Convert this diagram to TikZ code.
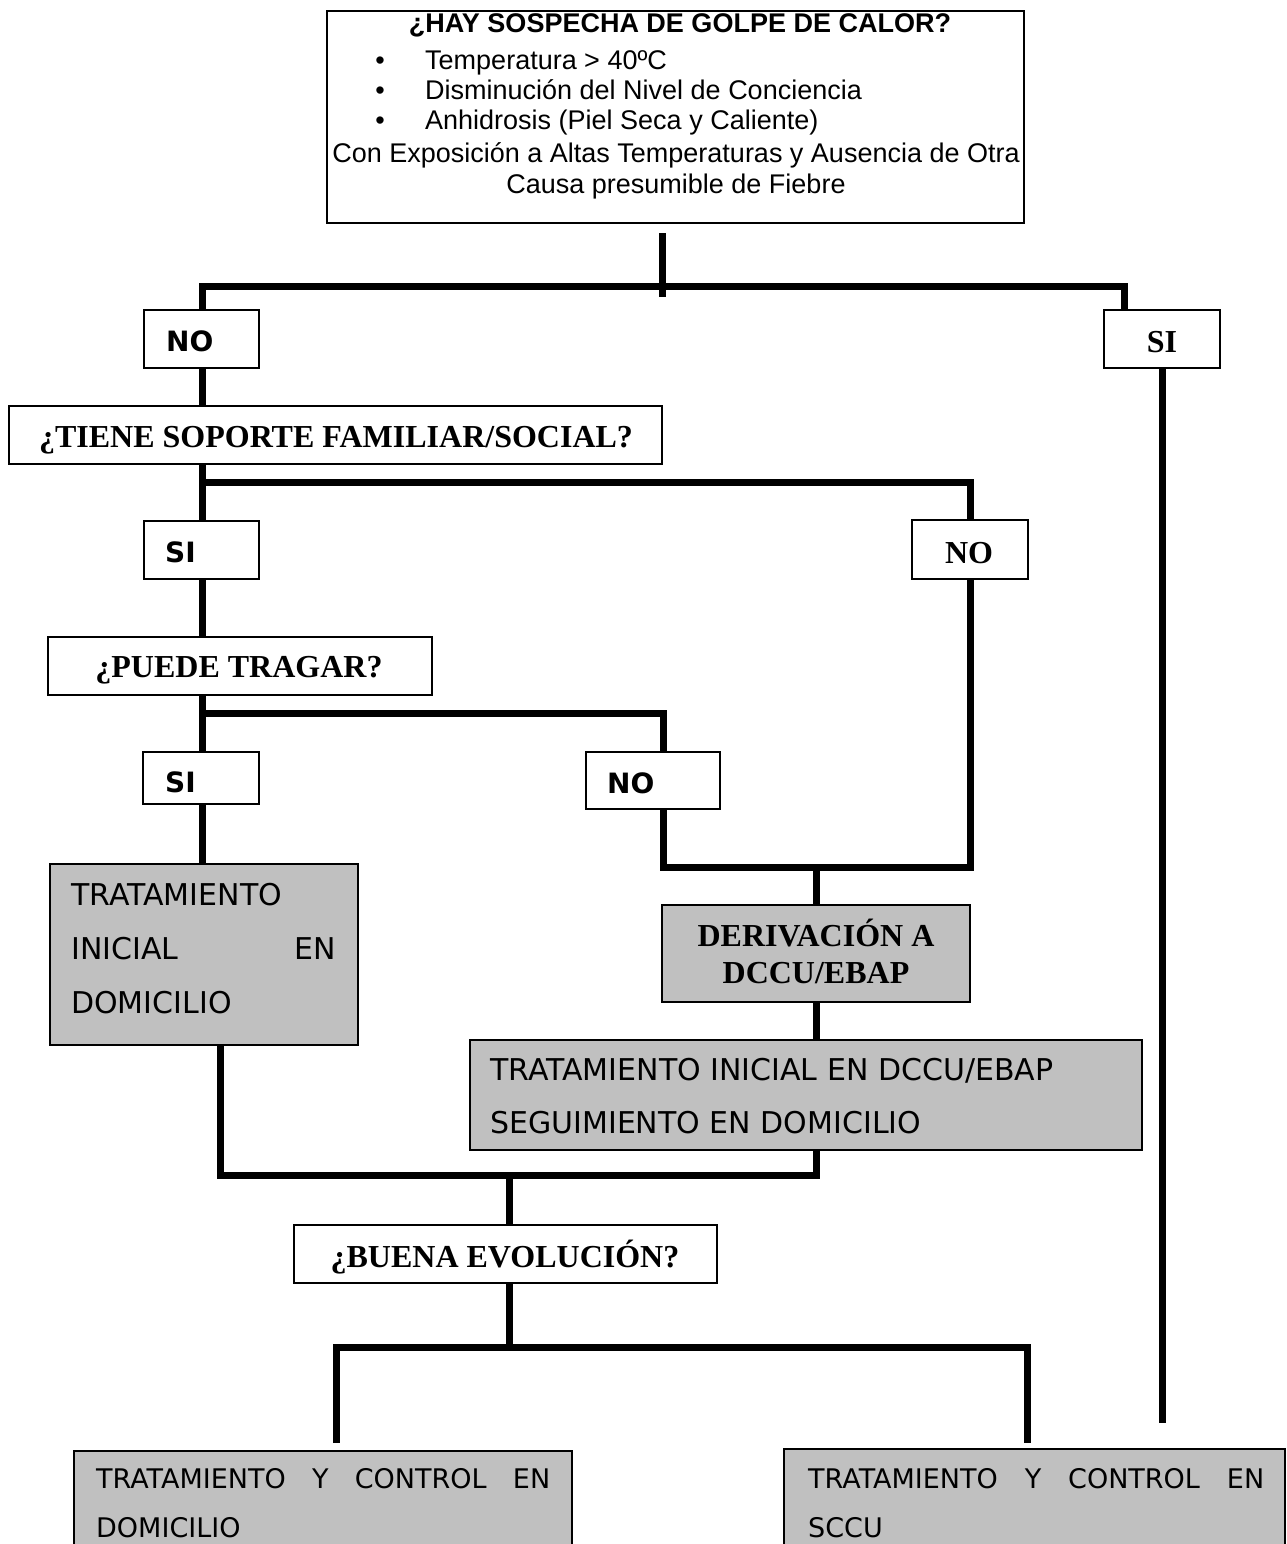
\documentclass[tikz,border=0pt]{standalone}
\usepackage{fontspec}
\setmainfont{Liberation Serif}
\newfontfamily\arialf{Liberation Sans}
\newfontfamily\verdf{DejaVu Sans}
\definecolor{boxgray}{RGB}{192,192,192}
\newcommand{\mybox}[6]{%
  \pgfmathsetmacro{\bw}{#5-#3}\pgfmathsetmacro{\bh}{#6-#4}%
  \pgfmathsetmacro{\bcx}{(#3+#5)/2}\pgfmathsetmacro{\bcy}{(#4+#6)/2}%
  \node[#2, minimum width=\bw pt, minimum height=\bh pt] (#1) at (\bcx,\bcy) {};}
\begin{document}
\begin{tikzpicture}[x=1pt,y=-1pt,
  conn/.style={line width=7pt, line join=miter, line cap=butt},
  lbl/.style={draw=black, line width=1.3pt, fill=white, rectangle, inner sep=0pt, outer sep=0pt},
  topbox/.style={draw=black, line width=2pt, fill=white, rectangle, inner sep=0pt, outer sep=0pt},
  gbox/.style={draw=black, line width=1.3pt, fill=boxgray, rectangle, inner sep=0pt, outer sep=0pt},
  ttl/.style={inner sep=0pt, font={\arialf\fontsize{27}{27}\selectfont}},
  ttlb/.style={inner sep=0pt, font={\arialf\bfseries\fontsize{27}{27}\selectfont}},
  tms/.style={inner sep=0pt, font={\bfseries\fontsize{32}{32}\selectfont}},
  vb/.style={inner sep=0pt, font={\verdf\bfseries\fontsize{28}{28}\selectfont}},
  vt/.style={inner sep=0pt, font={\verdf\fontsize{30}{30}\selectfont}},
  vs/.style={inner sep=0pt, font={\verdf\fontsize{27}{27}\selectfont}}
]
\useasboundingbox (0,0) rectangle (1287,1544);
\clip (0,0) rectangle (1287,1544);
\fill[white] (0,0) rectangle (1287,1544);

% boxes
\mybox{T}{topbox}{327}{11}{1024}{223}
\mybox{NO1}{lbl}{144}{310}{259}{368}
\mybox{SI1}{lbl}{1104}{310}{1220}{368}
\mybox{SOP}{lbl}{9}{406}{662}{464}
\mybox{SI2}{lbl}{144}{521}{259}{579}
\mybox{NO2}{lbl}{912}{520}{1028}{579}
\mybox{PUE}{lbl}{48}{637}{432}{695}
\mybox{SI3}{lbl}{143}{752}{259}{804}
\mybox{NO3}{lbl}{586}{752}{720}{809}
\mybox{TR1}{gbox}{50}{864}{358}{1045}
\mybox{DER}{gbox}{662}{905}{970}{1002}
\mybox{TR2}{gbox}{470}{1040}{1142}{1150}
\mybox{BUE}{lbl}{294}{1225}{717}{1283}
\mybox{BT1}{gbox}{74}{1451}{572}{1580}
\mybox{BT2}{gbox}{784}{1449}{1285}{1580}

% texts top box
\node[ttlb, anchor=base] (t0) at (680,33) {¿HAY SOSPECHA DE GOLPE DE CALOR?};
\node[ttl, anchor=base] (b1) at (380,70) {•};
\node[ttl, anchor=base west] (t1) at (425,70) {Temperatura > 40ºC};
\node[ttl, anchor=base] (b2) at (380,100) {•};
\node[ttl, anchor=base west] (t2) at (425,100) {Disminución del Nivel de Conciencia};
\node[ttl, anchor=base] (b3) at (380,130) {•};
\node[ttl, anchor=base west] (t3) at (425,130) {Anhidrosis (Piel Seca y Caliente)};
\node[ttl, anchor=base] (t4) at (676,162) {Con Exposición a Altas Temperaturas y Ausencia de Otra};
\node[ttl, anchor=base] (t5) at (676,193) {Causa presumible de Fiebre};

% label texts
\node[vb, anchor=base west] (tNO1) at (166,351) {NO};
\node[tms, anchor=base] (tSI1) at (1162,352) {SI};
\node[tms, anchor=base] (tSOP) at (336,447) {¿TIENE SOPORTE FAMILIAR/SOCIAL?};
\node[vb, anchor=base west] (tSI2) at (165,562) {SI};
\node[tms, anchor=base] (tNO2) at (969,563) {NO};
\node[tms, anchor=base] (tPUE) at (239,677) {¿PUEDE TRAGAR?};
\node[vb, anchor=base west] (tSI3) at (165,792) {SI};
\node[vb, anchor=base west] (tNO3) at (607,793) {NO};
\node[tms, anchor=base] (tDER1) at (816,946) {DERIVACIÓN A};
\node[tms, anchor=base] (tDER2) at (816,983) {DCCU/EBAP};
\node[tms, anchor=base] (tBUE) at (505,1267) {¿BUENA EVOLUCIÓN?};

% gray box texts
\node[vt, anchor=base west] (tTR1a) at (71,905) {TRATAMIENTO};
\node[vt, anchor=base west] (tTR1b) at (71,959) {\hbox to 265pt{INICIAL\hfill EN}};
\node[vt, anchor=base west] (tTR1c) at (71,1013) {DOMICILIO};
\node[vt, anchor=base west] (tTR2a) at (490,1080) {TRATAMIENTO INICIAL EN DCCU/EBAP};
\node[vt, anchor=base west] (tTR2b) at (490,1133) {SEGUIMIENTO EN DOMICILIO};
\node[vs, anchor=base west] (tBT1a) at (96,1488) {\hbox to 454pt{TRATAMIENTO\hfill Y\hfill CONTROL\hfill EN}};
\node[vs, anchor=base west] (tBT1b) at (96,1537) {DOMICILIO};
\node[vs, anchor=base west] (tBT2a) at (808,1488) {\hbox to 456pt{TRATAMIENTO\hfill Y\hfill CONTROL\hfill EN}};
\node[vs, anchor=base west] (tBT2b) at (808,1537) {SCCU};

% coordinates
\coordinate (tr1) at (662,233);
\coordinate (tr2) at (662,297);
\coordinate (h1L) at (202,286);
\coordinate (h1R) at (1124,286);
\coordinate (siEnd) at (1162,1423);
\coordinate (h2L) at (202,482);
\coordinate (h2R) at (970,482);
\coordinate (h3L) at (202,713);
\coordinate (h3R) at (663,713);
\coordinate (h4L) at (663,867);
\coordinate (h4R) at (970,867);
\coordinate (h4M) at (816,867);
\coordinate (h5L) at (220,1175);
\coordinate (h5R) at (816,1175);
\coordinate (h5M) at (509,1175);
\coordinate (h6M) at (509,1347);
\coordinate (h6L) at (336,1347);
\coordinate (h6R) at (1027,1347);
\coordinate (e6L) at (336,1443);
\coordinate (e6R) at (1027,1443);

% connectors
\draw[conn] (tr1) -- (tr2);
\draw[conn] (NO1.north -| h1L) -- (h1L) -- (h1R) -- (SI1.north -| h1R);
\draw[conn] (SI1.south) -- (siEnd);
\draw[conn] (NO1.south -| h1L) -- (SOP.north -| h1L);
\draw[conn] (SOP.south -| h1L) -- (SI2.north -| h1L);
\draw[conn] (h2L) -- (h2R) -- (NO2.north -| h2R);
\draw[conn] (SI2.south -| h1L) -- (PUE.north -| h1L);
\draw[conn] (PUE.south -| h1L) -- (SI3.north -| h1L);
\draw[conn] (h3L) -- (h3R) -- (NO3.north -| h3R);
\draw[conn] (SI3.south -| h1L) -- (TR1.north -| h1L);
\draw[conn] (NO3.south -| h4L) -- (h4L) -- (h4R) -- (NO2.south -| h4R);
\draw[conn] (h4M) -- (DER.north -| h4M);
\draw[conn] (DER.south -| h4M) -- (TR2.north -| h4M);
\draw[conn] (TR2.south -| h5R) -- (h5R) -- (h5L) -- (TR1.south -| h5L);
\draw[conn] (h5M) -- (BUE.north -| h5M);
\draw[conn] (BUE.south -| h6M) -- (h6M);
\draw[conn] (e6L) -- (h6L) -- (h6R) -- (e6R);
\end{tikzpicture}
\end{document}
